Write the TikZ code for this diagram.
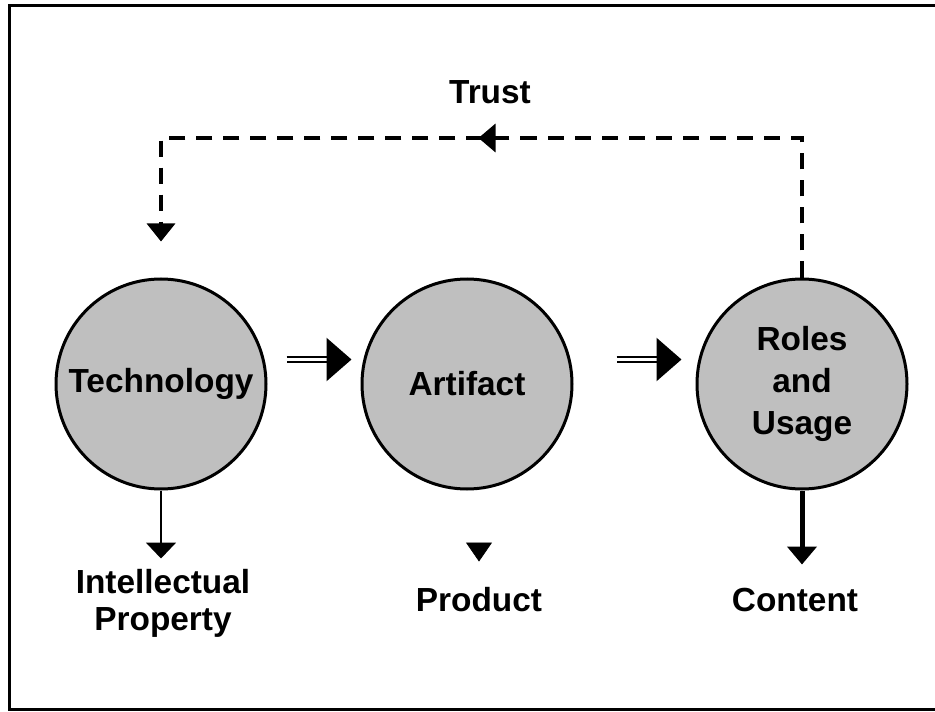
\documentclass[tikz,border=0pt]{standalone}
\usepackage{fontspec}
\setmainfont{Liberation Sans}
\usetikzlibrary{arrows.meta,decorations.markings}

\begin{document}
\begin{tikzpicture}[
    hub/.style={circle, draw, line width=0.06cm, fill=black!25, minimum size=4.2cm,
      inner sep=0pt, align=center, font=\fontsize{19}{24}\selectfont\bfseries},
    lbl/.style={align=center, font=\fontsize{19}{21}\selectfont\bfseries},
    flow/.style={double, line width=0.05cm, double distance=0.055cm,
      -{Triangle[length=0.5cm,width=0.86cm]}},
    trustline/.style={dash pattern=on 0.32cm off 0.22cm, line width=0.07cm,
      -{Triangle[length=0.36cm,width=0.56cm]},
      postaction={decorate, decoration={markings,
        mark=at position 9.26cm with {\arrow{Triangle[length=0.34cm,width=0.56cm]}}}}}]
        \useasboundingbox (0,0) rectangle (18.7,14.22);
        \draw[line width=0.06cm] (18.8,14.1) -- (0.2,14.1) -- (0.2,0.04) -- (18.8,0.04);

        \node[hub] (tech) at (3.22,6.54) {Technology};
        \node[hub] (art) at (9.34,6.54) {Artifact};
        \node[hub] (roles) at (16.04,6.54) {Roles\\and\\Usage};

        \node[lbl] (trust) at (9.8,12.38) {Trust};
        \node[lbl] (ip) at (3.26,2.15) {Intellectual\\Property};
        \node[lbl] (prod) at (9.58,2.22) {Product};
        \node[lbl] (content) at (15.9,2.22) {Content};
        \coordinate (trusttop) at (3.22,11.46);

        % main chain
        \draw[flow] ([xshift=0.38cm,yshift=0.49cm]tech.east) -- ([xshift=-0.18cm,yshift=0.49cm]art.west);
        \draw[flow] ([xshift=0.86cm,yshift=0.49cm]art.east) -- ([xshift=-0.28cm,yshift=0.49cm]roles.west);

        % feedback
        \draw[trustline] (roles.north) |- (trusttop) -- ([yshift=0.72cm]tech.north);

        % outputs
        \draw[line width=0.04cm, -{Triangle[length=0.32cm,width=0.6cm]}] (tech.south) -- ([yshift=-1.36cm]tech.south);
        \draw[-{Triangle[length=0.38cm,width=0.52cm]}] ([xshift=0.24cm,yshift=-1.16cm]art.south) -- ([yshift=0.4cm]prod.north);
        \draw[line width=0.1cm, -{Triangle[length=0.36cm,width=0.58cm]}] (roles.south) -- ([yshift=-1.48cm]roles.south);
      \end{tikzpicture}
\end{document}
